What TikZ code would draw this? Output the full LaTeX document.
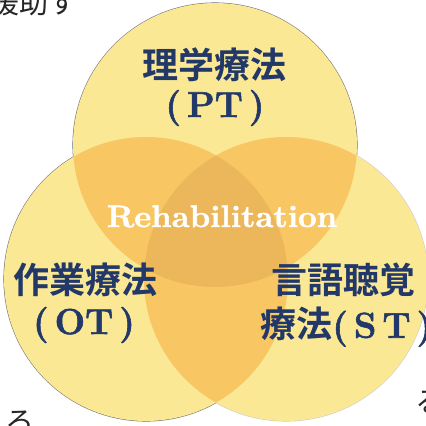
\documentclass[tikz,border=0pt]{standalone}
\usepackage{fontspec}
\setmainfont{Latin Modern Roman}[BoldFeatures={FakeBold=1.6}]
\newfontfamily\cjk{Noto Sans CJK JP}[BoldFont={Noto Sans CJK JP Bold}]
\definecolor{base}{RGB}{251,232,148}
\definecolor{lens}{RGB}{248,199,100}
\definecolor{core}{RGB}{236,182,90}
\definecolor{navy}{RGB}{33,56,105}
\begin{document}
\begin{tikzpicture}[x=1pt,y=-1pt,
  cjklabel/.style={inner sep=0pt,text=navy,font=\cjk\bfseries\fontsize{36}{40}\selectfont},
  abbr/.style={inner sep=0pt,text=navy,font=\bfseries\fontsize{36}{40}\selectfont},
  frag/.style={inner sep=0pt,text=black!85,font=\cjk\fontsize{29}{30}\selectfont},
  rim/.style={draw=black!55,line width=1.1pt}]
\useasboundingbox (0,0) rectangle (426,426);
\clip (0,0) rectangle (426,426);
\fill[white] (0,0) rectangle (426,426);
\coordinate (C1) at (215,145);
\coordinate (C2) at (146,279);
\coordinate (C3) at (286,279);
% outer rims
\draw[rim] (C1) circle (142pt);
\draw[rim] (C2) circle (142pt);
\draw[rim,draw=black!20] (C3) circle (142pt);
% fills
\fill[base] (C1) circle (142pt);
\fill[base] (C2) circle (142pt);
\fill[base] (C3) circle (142pt);
\begin{scope}
  \clip (C1) circle (142pt);
  \fill[lens] (C2) circle (142pt);
  \fill[lens] (C3) circle (142pt);
\end{scope}
\begin{scope}
  \clip (C2) circle (142pt);
  \fill[lens] (C3) circle (142pt);
\end{scope}
\begin{scope}
  \clip (C1) circle (142pt);
  \clip (C2) circle (142pt);
  \fill[core] (C3) circle (142pt);
\end{scope}
% labels
\node[cjklabel] (pt1) at (214,65) {理学療法};
\node[abbr] (pt2) at (215,108) {(\,PT\,)};
\node[inner sep=0pt,text=white,font=\bfseries\fontsize{31}{31}\selectfont,anchor=base] (reh) at (222,227) {\scalebox{1.06}[1]{Rehabilitation}};
\node[cjklabel] (ot1) at (85,280) {作業療法};
\node[abbr] (ot2) at (84,325) {(\,OT\,)};
\node[cjklabel] (st1) at (343,280) {言語聴覚};
\node[cjklabel,anchor=west] (st2) at (260,327) {療法{\rmfamily\bfseries\fontsize{36}{40}\selectfont(\,S\,T\,)}};
% page fragments
\node[frag,anchor=base west] (f1) at (-9.5,13) {援助す};
\node[frag,anchor=base west] (f2) at (5,432) {ろ};
\node[frag,anchor=base west] (f3) at (415,412) {る};
\end{tikzpicture}
\end{document}
